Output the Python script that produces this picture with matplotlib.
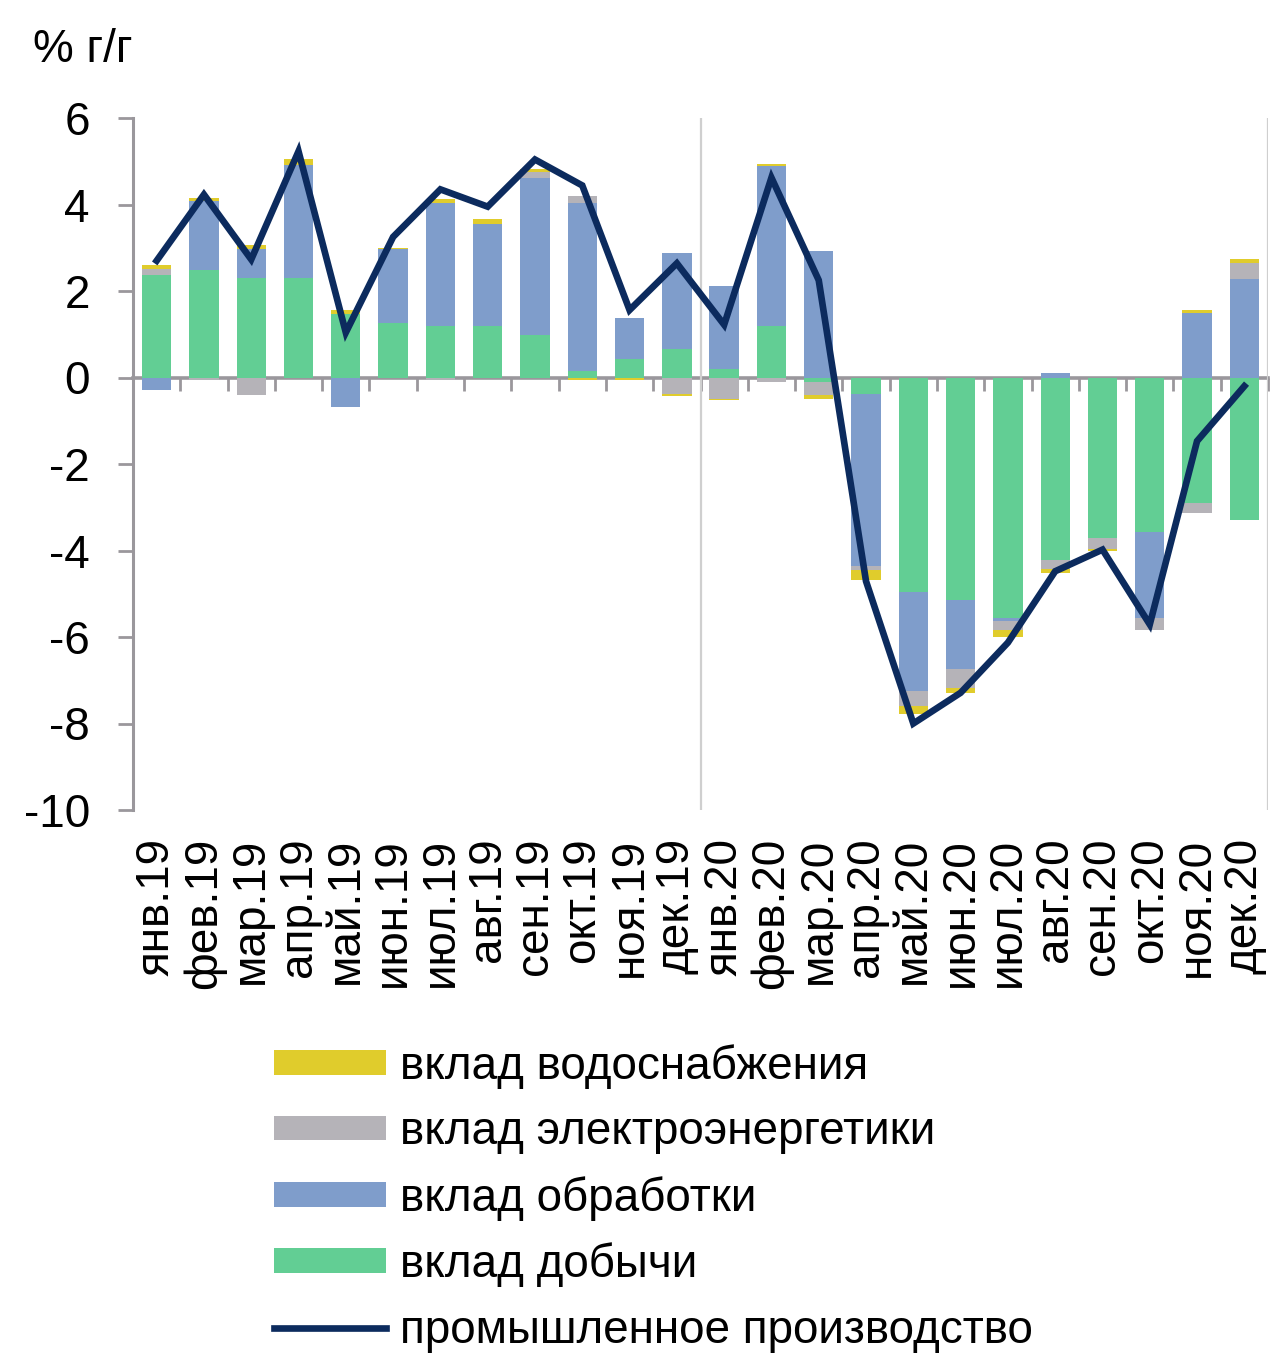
import numpy as np
import matplotlib
matplotlib.use("Agg")
import matplotlib.pyplot as plt

plt.rcParams['font.family'] = ['Liberation Sans', 'DejaVu Sans']
plt.rcParams['axes.unicode_minus'] = False

months = ["янв.19", "фев.19", "мар.19", "апр.19", "май.19", "июн.19", "июл.19", "авг.19",
          "сен.19", "окт.19", "ноя.19", "дек.19", "янв.20", "фев.20", "мар.20", "апр.20",
          "май.20", "июн.20", "июл.20", "авг.20", "сен.20", "окт.20", "ноя.20", "дек.20"]

mining = [2.36, 2.48, 2.30, 2.30, 1.46, 1.25, 1.20, 1.20, 0.99, 0.15, 0.43, 0.66,
          0.20, 1.19, -0.10, -0.39, -4.96, -5.15, -5.56, -4.21, -3.72, -3.58, -2.91, -3.30]
manufacturing = [-0.30, 1.60, 0.66, 2.62, -0.68, 1.71, 2.84, 2.36, 3.63, 3.89, 0.95, 2.22,
                 1.91, 3.70, 2.92, -3.97, -2.29, -1.60, -0.07, 0.10, 0.00, -1.98, 1.50, 2.27]
electricity = [0.14, -0.05, -0.40, 0.00, 0.00, 0.00, -0.05, 0.00, 0.13, 0.15, 0.00, -0.38,
               -0.50, -0.10, -0.30, -0.09, -0.35, -0.43, -0.20, -0.21, -0.24, -0.28, -0.23, 0.38]
water = [0.09, 0.06, 0.11, 0.14, 0.10, 0.04, 0.08, 0.11, 0.06, -0.05, -0.05, -0.05,
         -0.03, 0.04, -0.10, -0.24, -0.19, -0.11, -0.17, -0.10, -0.04, 0.00, 0.07, 0.09]
industry = [2.70, 4.23, 2.73, 5.23, 1.04, 3.25, 4.35, 3.95, 5.04, 4.44, 1.56, 2.64,
            1.22, 4.62, 2.25, -4.71, -8.00, -7.29, -6.13, -4.48, -3.98, -5.71, -1.47, -0.20]

series = [
    ("вклад добычи", mining, "#62CE94"),
    ("вклад обработки", manufacturing, "#7F9DCB"),
    ("вклад электроэнергетики", electricity, "#B5B3B8"),
    ("вклад водоснабжения", water, "#E0CC2C"),
]
line_color = "#0C2B5E"
axis_grey = "#9A979C"
FS = 33

fig = plt.figure(figsize=(12.71, 13.56), dpi=100)
ax = fig.add_axes([133 / 1271, 1 - 810 / 1356, (1268 - 133) / 1271, 692 / 1356])

x = np.arange(len(months))
pos_bottom = np.zeros(len(months))
neg_bottom = np.zeros(len(months))
handles = {}
for label, vals, color in series:
    v = np.array(vals, dtype=float)
    bottom = np.where(v >= 0, pos_bottom, neg_bottom)
    b = ax.bar(x, v, width=0.62, bottom=bottom, color=color, label=label, zorder=2, linewidth=0)
    handles[label] = b
    pos_bottom = pos_bottom + np.where(v >= 0, v, 0)
    neg_bottom = neg_bottom + np.where(v < 0, v, 0)

ln, = ax.plot(x, industry, color=line_color, lw=4.8, zorder=4, solid_joinstyle='miter',
              label="промышленное производство")

ax.set_xlim(-0.5, len(months) - 0.5)
ax.set_ylim(-10, 6)

# separators
ax.axvline(11.5, color="#CFCFCF", lw=1.6, zorder=1)
ax.axvline(23.5, color="#CFCFCF", lw=1.6, zorder=1)

for s in ["top", "right", "bottom"]:
    ax.spines[s].set_visible(False)
ax.spines["left"].set_color(axis_grey)
ax.spines["left"].set_linewidth(2.2)

ax.set_yticks(np.arange(-10, 7, 2))
ax.tick_params(axis="y", direction="out", length=11, width=2, color=axis_grey,
               labelsize=FS, pad=20)
ax.set_xticks(x)
ax.set_xticklabels(months, rotation=90)
ax.tick_params(axis="x", length=0, labelsize=FS, pad=20)

# category axis drawn at the zero level
sec = ax.secondary_xaxis(0, transform=ax.transData)
sec.spines["bottom"].set_color(axis_grey)
sec.spines["bottom"].set_linewidth(2.6)
sec.spines["bottom"].set_zorder(3)
sec.set_xticks(np.arange(-0.5, len(months), 1.0))
sec.set_xticklabels([])
sec.tick_params(axis="x", direction="out", length=9, width=2, color=axis_grey)

fig.text(33 / 1271, 1 - 28 / 1356, "% г/г", fontsize=FS, ha="left", va="top")

order = ["вклад водоснабжения", "вклад электроэнергетики", "вклад обработки", "вклад добычи"]
hs = [handles[k] for k in order] + [ln]
labs = order + ["промышленное производство"]
leg = fig.legend(hs, labs, loc="upper left", bbox_to_anchor=(274 / 1271, 1 - 1044 / 1356),
                 frameon=False, fontsize=FS, handlelength=2.45, handleheight=0.45,
                 handletextpad=0.3, labelspacing=0.47, borderpad=0, borderaxespad=0)

fig.savefig("out.png", dpi=100, facecolor="white")
